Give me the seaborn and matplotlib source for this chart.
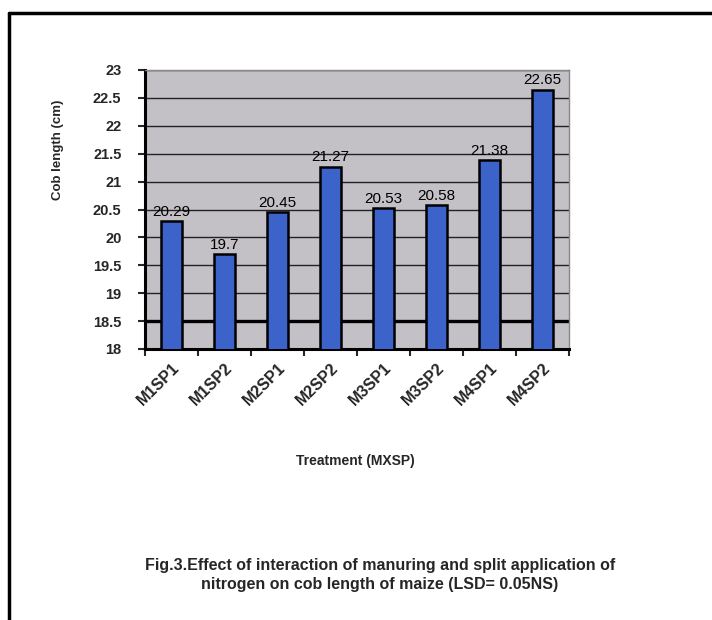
import matplotlib
matplotlib.use("Agg")
import matplotlib.pyplot as plt
from matplotlib.lines import Line2D
from matplotlib.ticker import FixedLocator
import seaborn as sns
import pandas as pd
import numpy as np

treatments = ["M1SP1", "M1SP2", "M2SP1", "M2SP2", "M3SP1", "M3SP2", "M4SP1", "M4SP2"]
cob_length = [20.29, 19.7, 20.45, 21.27, 20.53, 20.58, 21.38, 22.65]
value_labels = ["20.29", "19.7", "20.45", "21.27", "20.53", "20.58", "21.38", "22.65"]
y_ticks = [18, 18.5, 19, 19.5, 20, 20.5, 21, 21.5, 22, 22.5, 23]

df = pd.DataFrame({"Treatment": treatments, "Cob length": cob_length})

sns.set_style("white")
plt.rcParams["font.family"] = ["Liberation Sans", "DejaVu Sans"]

W, H = 712, 620
fig = plt.figure(figsize=(W / 100, H / 100), dpi=100)
fig.patch.set_facecolor("white")

ax = fig.add_axes([145 / W, 1 - 349 / H, (569 - 145) / W, (349 - 70) / H])
ax.set_facecolor("#c3c0c6")

sns.barplot(data=df, x="Treatment", y="Cob length", ax=ax, color="#3b63c9",
            width=0.38, edgecolor="black", linewidth=1.8, saturation=1, zorder=3)

ax.set_yticks(y_ticks)
ax.set_yticklabels([("%g" % v) for v in y_ticks], fontweight="bold")
ax.set_ylim(18, 23)
ax.set_xlim(-0.5, len(treatments) - 0.5)
ax.set_axisbelow(True)
ax.grid(axis="y", color="#222222", linewidth=1.0, zorder=0.5)
ax.axhline(18.5, color="black", linewidth=2.4, zorder=1)

for s in ["top", "right"]:
    ax.spines[s].set_visible(True)
    ax.spines[s].set_color("#888888")
    ax.spines[s].set_linewidth(1.0)
ax.spines["left"].set_color("black")
ax.spines["left"].set_linewidth(2.2)
ax.spines["bottom"].set_color("black")
ax.spines["bottom"].set_linewidth(2.2)

ax.tick_params(axis="y", which="major", direction="out", length=5, width=1.5,
               labelsize=10.5, pad=12, left=True)

ax.xaxis.set_minor_locator(FixedLocator([i - 0.5 for i in range(len(treatments) + 1)]))
ax.tick_params(axis="x", which="minor", direction="out", length=5, width=1.5, bottom=True)
ax.tick_params(axis="x", which="major", length=0, labelsize=11.5, pad=8)
ax.set_xticks(range(len(treatments)))
ax.set_xticklabels(treatments, rotation=45, ha="right", rotation_mode="anchor",
                   fontweight="bold")

for i, (v, t) in enumerate(zip(cob_length, value_labels)):
    ax.text(i, v + 0.04, t, ha="center", va="bottom", fontsize=11, color="black", zorder=4)

ax.set_xlabel("")
ax.set_ylabel("")
fig.text(58 / W, 1 - 150 / H, "Cob length (cm)", rotation=90, ha="center", va="center",
         fontsize=9.5, fontweight="bold")

fig.text(355 / W, 1 - 461 / H, "Treatment (MXSP)", ha="center", va="center",
         fontsize=10, fontweight="bold")
fig.text(380 / W, 1 - 575 / H,
         "Fig.3.Effect of interaction of manuring and split application of\n"
         "nitrogen on cob length of maize (LSD= 0.05NS)",
         ha="center", va="center", fontsize=11.5, fontweight="bold", linespacing=1.3)

# outer frame
fig.add_artist(Line2D([9 / W, 1.0], [1 - 13 / H, 1 - 13 / H], color="black", linewidth=2.5,
                      transform=fig.transFigure))
fig.add_artist(Line2D([9 / W, 9 / W], [0.0, 1 - 13 / H], color="black", linewidth=2.5,
                      transform=fig.transFigure))

fig.savefig("out.png", dpi=100)
